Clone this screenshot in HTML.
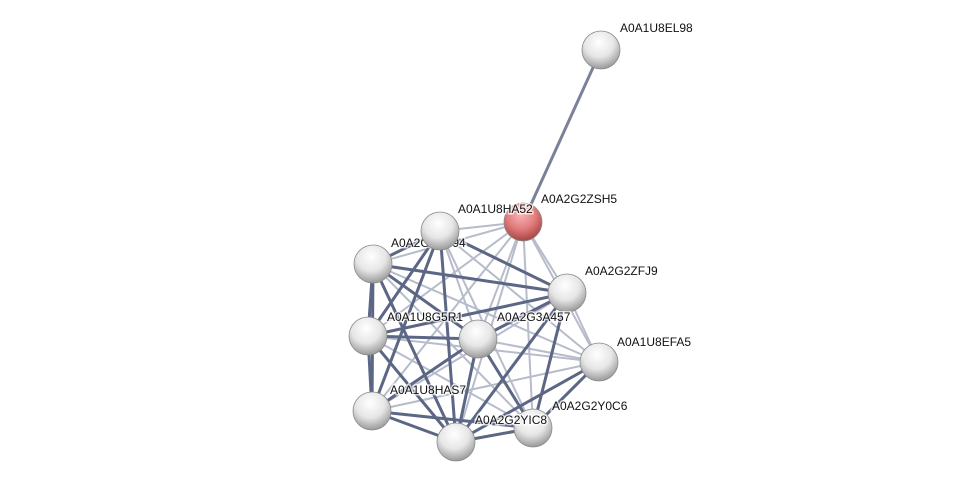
<!DOCTYPE html>
<html><head><style>body{margin:0;background:#fff}svg{display:block}</style></head><body>
<svg width="975" height="487" viewBox="0 0 975 487" xmlns="http://www.w3.org/2000/svg">
<defs>
<radialGradient id="g" cx="0.45" cy="0.3" r="0.7"><stop offset="0" stop-color="#ffffff"/><stop offset="0.55" stop-color="#e6e6e6"/><stop offset="1" stop-color="#9a9a9a"/></radialGradient>
<radialGradient id="r" cx="0.45" cy="0.3" r="0.7"><stop offset="0" stop-color="#f8b4b4"/><stop offset="0.55" stop-color="#e27c7c"/><stop offset="1" stop-color="#a84444"/></radialGradient>
</defs>
<g stroke-linecap="round" fill="none">
<line x1="601" y1="50" x2="523" y2="222" stroke="#7b8199" stroke-width="3"/>
<g stroke="#b7bccb" stroke-width="2">
<line x1="440" y1="231" x2="523" y2="222"/>
<line x1="373" y1="264" x2="523" y2="222"/>
<line x1="523" y1="222" x2="567" y2="293"/>
<line x1="523" y1="222" x2="599" y2="362"/>
<line x1="523" y1="222" x2="368" y2="336"/>
<line x1="523" y1="222" x2="478" y2="339"/>
<line x1="523" y1="222" x2="372" y2="411"/>
<line x1="523" y1="222" x2="456" y2="442"/>
<line x1="523" y1="222" x2="533" y2="428"/>
<line x1="440" y1="231" x2="599" y2="362"/>
<line x1="440" y1="231" x2="533" y2="428"/>
<line x1="373" y1="264" x2="599" y2="362"/>
<line x1="567" y1="293" x2="599" y2="362"/>
<line x1="567" y1="293" x2="372" y2="411"/>
<line x1="368" y1="336" x2="599" y2="362"/>
<line x1="372" y1="411" x2="599" y2="362"/>
<line x1="478" y1="339" x2="599" y2="362"/>
<line x1="373" y1="264" x2="533" y2="428"/>
<line x1="440" y1="231" x2="478" y2="339"/>
<line x1="368" y1="336" x2="533" y2="428"/>
</g>
<g stroke="#5c6685" stroke-width="3">
<line x1="440" y1="231" x2="373" y2="264"/>
<line x1="440" y1="231" x2="567" y2="293"/>
<line x1="440" y1="231" x2="368" y2="336"/>
<line x1="440" y1="231" x2="372" y2="411"/>
<line x1="440" y1="231" x2="456" y2="442"/>
<line x1="373" y1="264" x2="567" y2="293"/>
<line x1="373" y1="264" x2="368" y2="336"/>
<line x1="373" y1="264" x2="478" y2="339"/>
<line x1="373" y1="264" x2="456" y2="442"/>
<line x1="373" y1="264" x2="372" y2="411"/>
<line x1="368" y1="336" x2="567" y2="293"/>
<line x1="368" y1="336" x2="478" y2="339"/>
<line x1="368" y1="336" x2="372" y2="411"/>
<line x1="368" y1="336" x2="456" y2="442"/>
<line x1="478" y1="339" x2="567" y2="293"/>
<line x1="478" y1="339" x2="372" y2="411"/>
<line x1="478" y1="339" x2="456" y2="442"/>
<line x1="478" y1="339" x2="533" y2="428"/>
<line x1="567" y1="293" x2="533" y2="428"/>
<line x1="567" y1="293" x2="456" y2="442"/>
<line x1="372" y1="411" x2="456" y2="442"/>
<line x1="372" y1="411" x2="533" y2="428"/>
<line x1="456" y1="442" x2="533" y2="428"/>
<line x1="456" y1="442" x2="599" y2="362"/>
<line x1="533" y1="428" x2="599" y2="362"/>
</g>
</g>
<text x="391" y="247" font-family="Liberation Sans, sans-serif" font-size="12" fill="#111" stroke="#fff" stroke-width="3" stroke-opacity="0.7" paint-order="stroke">A0A2G2ZD94</text>
<g stroke="#8a8a8a" stroke-width="0.8">
<circle cx="601" cy="50" r="19" fill="url(#g)"/>
<circle cx="440" cy="231" r="19" fill="url(#g)"/>
<circle cx="373" cy="264" r="19" fill="url(#g)"/>
<circle cx="567" cy="293" r="19" fill="url(#g)"/>
<circle cx="368" cy="336" r="19" fill="url(#g)"/>
<circle cx="478" cy="339" r="19" fill="url(#g)"/>
<circle cx="599" cy="362" r="19" fill="url(#g)"/>
<circle cx="372" cy="411" r="19" fill="url(#g)"/>
<circle cx="456" cy="442" r="19" fill="url(#g)"/>
<circle cx="533" cy="428" r="19" fill="url(#g)"/>
<circle cx="523" cy="222" r="19" fill="url(#r)"/>
</g>
<g font-family="Liberation Sans, sans-serif" font-size="12" fill="#111" stroke="#fff" stroke-width="3" stroke-opacity="0.7" paint-order="stroke">
<text x="620" y="32">A0A1U8EL98</text>
<text x="541" y="203">A0A2G2ZSH5</text>
<text x="458" y="213">A0A1U8HA52</text>
<text x="585" y="275">A0A2G2ZFJ9</text>
<text x="387" y="321">A0A1U8G5R1</text>
<text x="497" y="321">A0A2G3A457</text>
<text x="617" y="346">A0A1U8EFA5</text>
<text x="390" y="394">A0A1U8HAS7</text>
<text x="552" y="410">A0A2G2Y0C6</text>
<text x="475" y="424">A0A2G2YIC8</text>
</g>
</svg>
</body></html>
